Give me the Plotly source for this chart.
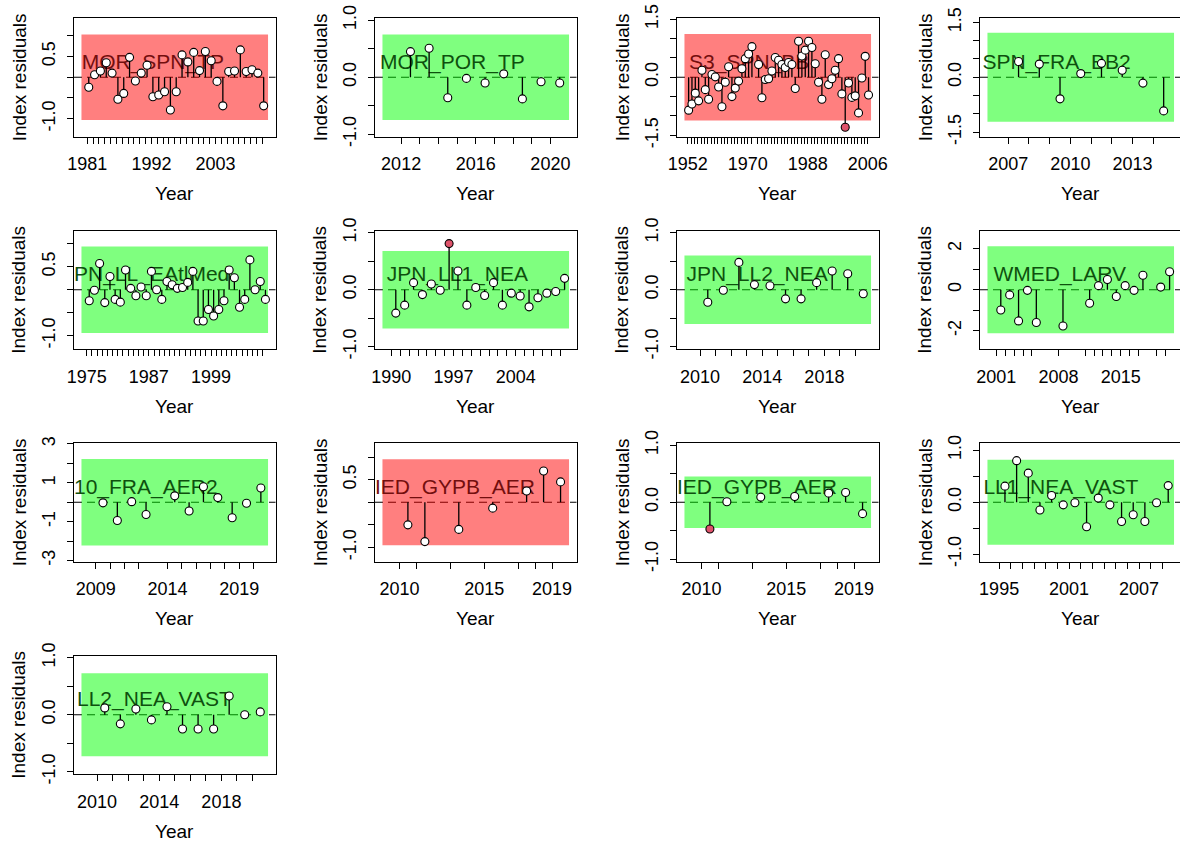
import plotly.graph_objects as go

# ---------------- data ----------------
panel_labels = ["MOR_SPN_TP", "MOR_POR_TP", "S3_SPN_BB", "SPN_FRA_BB2",
                "PN_LL_EAtlMed", "JPN_LL1_NEA", "JPN_LL2_NEA", "WMED_LARV",
                "10_FRA_AER2", "IED_GYPB_AER", "IED_GYPB_AER", "LL1_NEA_VAST",
                "LL2_NEA_VAST"]

years_1 = list(range(1981, 2012))
resid_1 = [-0.24, 0.06, 0.15, 0.35, 0.10, -0.53, -0.39, 0.48, -0.09, 0.10, 0.29,
           -0.47, -0.43, -0.35, -0.79, -0.35, 0.54, 0.37, 0.60, 0.16, 0.62, 0.40,
           -0.10, -0.69, 0.14, 0.15, 0.66, 0.14, 0.18, 0.10, -0.69]

years_2 = list(range(2012, 2021))
resid_2 = [0.45, 0.51, -0.36, -0.02, -0.10, 0.06, -0.38, -0.08, -0.10]

years_3 = list(range(1952, 1972)) + list(range(1973, 2007))
resid_3 = [-0.85, -0.69, -0.41, -0.61, 0.18, -0.32, -0.57, 0.07, 0.01, -0.25,
           -0.76, -0.13, 0.27, -0.50, -0.28, -0.10, 0.22, 0.48, 0.60, 0.79,
           0.33, -0.53, -0.06, -0.04, 0.16, 0.51, 0.44, 0.33, 0.25, 0.38,
           0.33, -0.29, 0.93, 0.55, 0.70, 0.93, 0.77, 0.35, -0.13, -0.57,
           0.58, -0.19, -0.04, 0.18, 0.48, -0.43, -1.29, -0.15, -0.52, -0.48,
           -0.92, -0.02, 0.54, -0.46]

years_4 = list(range(2007, 2015))
resid_4 = [0.43, 0.36, -0.59, 0.10, 0.38, 0.19, -0.16, -0.92]

years_5 = list(range(1975, 2010))
resid_5 = [-0.24, -0.01, 0.57, -0.28, 0.29, -0.21, -0.27, 0.43, 0.03, -0.13,
           0.06, -0.13, 0.40, 0.00, -0.21, 0.18, 0.11, 0.03, 0.05, 0.16,
           0.40, -0.68, -0.68, -0.43, -0.57, -0.43, -0.24, 0.43, 0.26, -0.38,
           -0.21, 0.65, 0.00, 0.18, -0.21]

years_6 = list(range(1990, 2010))
resid_6 = [-0.41, -0.27, 0.125, -0.085, 0.10, -0.01, 0.81, 0.33, -0.27, 0.04,
           -0.10, 0.125, -0.27, -0.06, -0.11, -0.30, -0.14, -0.06, -0.03, 0.20]

years_7 = list(range(2010, 2021))
resid_7 = [-0.22, -0.01, 0.48, 0.09, 0.07, -0.16, -0.16, 0.125, 0.33, 0.28, -0.07]

years_8 = [2001, 2002, 2003, 2004, 2005, 2008, 2011, 2012, 2013, 2014, 2015,
           2016, 2017, 2019, 2020]
resid_8 = [-0.99, -0.25, -1.52, -0.03, -1.60, -1.77, -0.66, 0.20, 0.50, -0.33,
           0.20, -0.03, 0.71, 0.13, 0.88]

years_9 = [2009, 2010, 2011, 2012, 2014, 2015, 2016, 2017, 2018, 2019, 2020]
resid_9 = [-0.03, -0.94, 0.03, -0.63, 0.33, -0.45, 0.80, 0.24, -0.80, -0.05, 0.73]

years_10 = [2010, 2011, 2013, 2015, 2017, 2018, 2019]
resid_10 = [-0.50, -0.87, -0.60, -0.13, 0.25, 0.69, 0.45]

years_11 = [2010, 2011, 2013, 2015, 2017, 2018, 2019]
resid_11 = [-0.47, 0.01, 0.09, 0.10, 0.16, 0.17, -0.20]

years_12 = list(range(1995, 2010))
resid_12 = [0.31, 0.80, 0.56, -0.15, 0.13, -0.05, -0.01, -0.47, 0.08, -0.05,
            -0.37, -0.24, -0.37, -0.01, 0.32]

years_13 = list(range(2010, 2021))
resid_13 = [0.12, -0.16, 0.10, -0.09, 0.14, -0.25, -0.25, -0.25, 0.33, 0.00, 0.05]

all_years = [years_1, years_2, years_3, years_4, years_5, years_6, years_7,
             years_8, years_9, years_10, years_11, years_12, years_13]
all_resid = [resid_1, resid_2, resid_3, resid_4, resid_5, resid_6, resid_7,
             resid_8, resid_9, resid_10, resid_11, resid_12, resid_13]

# runs test failed (red) or passed (green)
runs_failed = [True, False, True, False, False, False, False, False, False,
               True, False, False, False]
# 3-sigma limits
sigma3_limits = [1.03, 0.75, 1.12, 1.22, 0.94, 0.68, 0.60, 2.12, 2.22, 0.95,
                 0.45, 0.82, 0.73]

x_tick_labels = [[1981, 1992, 2003], [2012, 2016, 2020], [1952, 1970, 1988, 2006],
                 [2007, 2010, 2013], [1975, 1987, 1999], [1990, 1997, 2004],
                 [2010, 2014, 2018], [2001, 2008, 2015], [2009, 2014, 2019],
                 [2010, 2015, 2019], [2010, 2015, 2019], [1995, 2001, 2007],
                 [2010, 2014, 2018]]

half_ticks = [-1.0, -0.5, 0.0, 0.5, 1.0]
y_tick_values = [half_ticks, half_ticks, [-1.5, -1.0, -0.5, 0.0, 0.5, 1.0, 1.5],
                 [-1.5, -1.0, -0.5, 0.0, 0.5, 1.0, 1.5], half_ticks, half_ticks,
                 half_ticks, [-2, -1, 0, 1, 2], [-3, -2, -1, 0, 1, 2, 3],
                 half_ticks, half_ticks, half_ticks, half_ticks]
y_tick_shown = [["-1.0", "0.5"], ["-1.0", "0.0", "1.0"], ["-1.5", "0.0", "1.5"],
                ["-1.5", "0.0", "1.5"], ["-1.0", "0.5"], ["-1.0", "0.0", "1.0"],
                ["-1.0", "0.0", "1.0"], ["-2", "0", "2"], ["-3", "-1", "1", "3"],
                ["-1.0", "0.5"], ["-1.0", "0.0", "1.0"], ["-1.0", "0.0", "1.0"],
                ["-1.0", "0.0", "1.0"]]

# ---------------- layout / style ----------------
time_offset = [0.25, 0.5, 0.25, 0.5, 0.5, 0.5, 0.5, 0.5, 0.5, 0.5, 0.5, 0.5, 0.5]
y_half_range = [1.43, 1.04, 1.53, 1.62, 1.29, 1.04, 1.04, 2.89, 3.05, 1.31,
                1.04, 1.14, 1.04]
label_x_frac = [0.038, 0.025, 0.06, 0.012, 0.0, 0.058, 0.047, 0.067, 0.0, 0.0,
                0.0, 0.017, 0.015]
label_y_frac = 0.615

W, H = 1180, 845
col_x0 = [74, 375, 677, 980]
row_y0 = [18, 230.5, 443, 655.5]
box_w, box_h = 201.5, 118.5
FONT = "Liberation Sans, Arial, sans-serif"

fig = go.Figure()
shapes = []
annotations = []
layout_axes = {}

for i in range(13):
    n = i + 1
    sfx = "" if n == 1 else str(n)
    r, c = divmod(i, 4)
    px0 = col_x0[c]
    px1 = min(px0 + box_w, W)
    py0 = row_y0[r]
    py1 = py0 + box_h

    yrs = all_years[i]
    res = all_resid[i]
    lim = sigma3_limits[i]
    t = [y + time_offset[i] for y in yrs]

    rect_lo, rect_hi = min(yrs) - 1, max(yrs) + 1
    pad = 0.04 * (rect_hi - rect_lo)
    xa, xb = rect_lo - pad, rect_hi + pad
    xb = xa + (xb - xa) * (px1 - px0) / box_w
    ya, yb = -y_half_range[i], y_half_range[i]

    failed = runs_failed[i]
    fill = "rgba(255,0,0,0.5)" if failed else "rgba(0,255,0,0.5)"
    text_col = "rgb(115,14,14)" if failed else "rgb(14,80,14)"

    xref, yref = "x" + sfx, "y" + sfx

    # shaded 3-sigma band
    shapes.append(dict(type="rect", xref=xref, yref=yref, x0=rect_lo, x1=rect_hi,
                       y0=-lim, y1=lim, fillcolor=fill, line=dict(width=0),
                       layer="below"))
    # dashed zero line
    shapes.append(dict(type="line", xref=xref + " domain", yref=yref, x0=0, x1=1,
                       y0=0, y1=0, line=dict(color="black", width=1.2,
                                             dash="8px,5px"), layer="below"))

    # label text (below points)
    fig.add_trace(go.Scatter(
        x=[xa + label_x_frac[i] * (xb - xa)],
        y=[ya + label_y_frac * (yb - ya)],
        mode="text", text=[panel_labels[i]], textposition="middle right",
        textfont=dict(size=21, color=text_col, family=FONT),
        hoverinfo="skip", showlegend=False, cliponaxis=True,
        xaxis=xref, yaxis=yref))

    # stems
    sx, sy = [], []
    for tt, rr in zip(t, res):
        sx += [tt, tt, None]
        sy += [0, rr, None]
    fig.add_trace(go.Scatter(x=sx, y=sy, mode="lines",
                             line=dict(color="black", width=1.3),
                             hoverinfo="skip", showlegend=False,
                             xaxis=xref, yaxis=yref))
    # points
    colors = ["#DF536B" if (v > lim or v < -lim) else "white" for v in res]
    fig.add_trace(go.Scatter(x=t, y=res, mode="markers",
                             marker=dict(size=8, color=colors,
                                         line=dict(color="black", width=1.1)),
                             showlegend=False, name=panel_labels[i],
                             xaxis=xref, yaxis=yref))

    shown_x = set(x_tick_labels[i])
    shown_y = {float(s): s for s in y_tick_shown[i]}

    layout_axes["xaxis" + sfx] = dict(
        domain=[px0 / W, px1 / W], range=[xa, xb], anchor=yref,
        tickmode="array", tickvals=yrs,
        ticktext=[str(y) if y in shown_x else "" for y in yrs],
        ticks="outside", ticklen=6, tickwidth=1.2, tickcolor="black",
        showline=True, linecolor="black", linewidth=1.2, mirror=True,
        showgrid=False, zeroline=False, ticklabelstandoff=5, automargin=False,
        ticklabeloverflow="allow",
        tickfont=dict(size=18, color="black", family=FONT))
    layout_axes["yaxis" + sfx] = dict(
        domain=[1 - py1 / H, 1 - py0 / H], range=[ya, yb], anchor=xref,
        tickmode="array", tickvals=y_tick_values[i],
        ticktext=[shown_y.get(float(v), "") for v in y_tick_values[i]],
        tickangle=-90,
        ticks="outside", ticklen=6, tickwidth=1.2, tickcolor="black",
        showline=True, linecolor="black", linewidth=1.2, mirror=True,
        showgrid=False, zeroline=False, ticklabelstandoff=5, automargin=False,
        ticklabeloverflow="allow",
        tickfont=dict(size=18, color="black", family=FONT))

    # axis titles
    annotations.append(dict(text="Year", xref="paper", yref="paper",
                            x=(px0 + box_w / 2) / W, y=1 - (py1 + 57) / H,
                            xanchor="center", yanchor="middle", showarrow=False,
                            font=dict(size=19, color="black", family=FONT)))
    annotations.append(dict(text="Index residuals", xref="paper", yref="paper",
                            x=(px0 - 55) / W, y=1 - (py0 + box_h / 2) / H,
                            xanchor="center", yanchor="middle", showarrow=False,
                            textangle=-90,
                            font=dict(size=19, color="black", family=FONT)))

fig.update_layout(width=W, height=H,
                  margin=dict(l=0, r=0, t=0, b=0, pad=0, autoexpand=False),
                  paper_bgcolor="white", plot_bgcolor="white",
                  showlegend=False, shapes=shapes, annotations=annotations,
                  font=dict(family=FONT), **layout_axes)

# remove the default 8px page margin so the figure fills the window exactly
fig.write_html("out.html",
               config={"displayModeBar": False},
               post_script="document.body.style.margin='0px';"
                           "document.body.style.overflow='hidden';")
